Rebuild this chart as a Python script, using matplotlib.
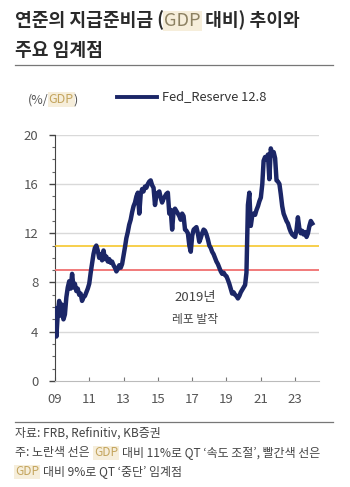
import matplotlib
matplotlib.use("Agg")
import matplotlib.pyplot as plt
import numpy as np
import pandas as pd
from matplotlib.lines import Line2D

plt.rcParams["font.family"] = ["Noto Sans CJK KR", "DejaVu Sans"]

# 월별 지급준비금 (GDP 대비, %), 2009-01 ~ 2024-01
reserve_2009 = [5.9, 3.6, 5.4, 6.5, 5.3, 6.2, 5.0, 5.4, 6.8, 7.6, 8.1, 7.5]
reserve_2010 = [8.7, 7.6, 7.9, 7.3, 7.5, 7.0, 7.1, 6.5, 6.8, 6.9, 7.2, 7.5]
reserve_2011 = [7.9, 8.8, 9.5, 10.3, 10.8, 11.0, 10.6, 10.0, 10.3, 9.8, 10.6, 9.9]
reserve_2012 = [10.1, 9.7, 9.9, 9.6, 9.7, 9.4, 9.2, 8.9, 9.1, 9.4, 9.2, 9.5]
reserve_2013 = [10.2, 10.9, 11.6, 12.1, 12.7, 13.1, 13.7, 14.2, 14.5, 15.0, 15.3, 13.6]
reserve_2014 = [15.2, 15.6, 15.4, 15.8, 15.7, 16.0, 16.2, 16.3, 15.9, 15.7, 14.3, 15.1]
reserve_2015 = [15.3, 15.4, 14.9, 14.5, 14.8, 15.0, 15.2, 15.3, 13.6, 13.9, 12.3, 13.8]
reserve_2016 = [14.0, 13.8, 13.6, 13.4, 13.1, 13.6, 13.4, 12.3, 12.2, 12.0, 11.0, 10.5]
reserve_2017 = [11.8, 12.3, 12.4, 12.5, 12.0, 11.3, 11.6, 12.0, 12.3, 12.2, 11.9, 11.5]
reserve_2018 = [11.0, 10.8, 10.5, 10.3, 10.0, 9.7, 9.5, 9.2, 8.9, 8.7, 8.8, 8.6]
reserve_2019 = [8.5, 8.2, 7.9, 7.5, 7.1, 7.2, 7.0, 6.9, 6.7, 6.9, 7.2, 7.4]
reserve_2020 = [7.6, 7.8, 8.8, 14.3, 15.3, 12.6, 13.4, 13.6, 13.5, 13.9, 14.2, 14.6]
reserve_2021 = [14.9, 16.0, 17.9, 18.2, 18.0, 18.4, 16.4, 18.9, 18.5, 18.6, 18.1, 16.3]
reserve_2022 = [16.2, 16.0, 15.2, 14.2, 13.6, 13.3, 13.0, 12.8, 12.4, 12.1, 11.9, 11.8]
reserve_2023 = [11.7, 12.3, 13.3, 12.4, 12.0, 12.2, 11.9, 12.1, 11.7, 12.0, 12.6, 13.0]
reserve_2024 = [12.8]

reserve = (reserve_2009 + reserve_2010 + reserve_2011 + reserve_2012 + reserve_2013
           + reserve_2014 + reserve_2015 + reserve_2016 + reserve_2017 + reserve_2018
           + reserve_2019 + reserve_2020 + reserve_2021 + reserve_2022 + reserve_2023
           + reserve_2024)
dates = pd.date_range("2009-01-01", periods=len(reserve), freq="MS")

slow_level = 11   # QT 속도 조절
stop_level = 9    # QT 중단
tick_years = [2009, 2011, 2013, 2015, 2017, 2019, 2021, 2023]
tick_labels = ["09", "11", "13", "15", "17", "19", "21", "23"]
y_ticks = [0, 4, 8, 12, 16, 20]

NAVY = "#1b2667"
GREY_TXT = "#555555"
NOTE_TXT = "#444444"
HL_BG = "#f6eedb"

fig = plt.figure(figsize=(3.5, 4.87), dpi=100)
ax = fig.add_axes([0.157, 0.218, 0.754, 0.505])

ax.plot(dates, reserve, color=NAVY, lw=3.2, solid_joinstyle="round", zorder=4)
ax.axhline(slow_level, color="#f5c21b", lw=1.1, zorder=3)
ax.axhline(stop_level, color="#f07070", lw=1.3, zorder=3)
for v in y_ticks[1:]:
    ax.axhline(v, color="#d9d9d9", lw=1.0, zorder=1)

ax.set_ylim(0, 20)
ax.set_xlim(pd.Timestamp("2009-01-01"), pd.Timestamp("2024-05-20"))
ax.set_yticks(y_ticks)
ax.set_yticks(np.arange(0, 21, 1), minor=True)
ax.set_xticks([pd.Timestamp(f"{y}-01-01") for y in tick_years])
ax.set_xticklabels(tick_labels)
ax.tick_params(axis="y", which="major", direction="out", length=4, width=1,
               color="#444444", labelsize=9.5, labelcolor=GREY_TXT, pad=8)
ax.tick_params(axis="y", which="minor", direction="out", length=2.5, width=0.8,
               color="#666666")
ax.tick_params(axis="x", which="major", direction="in", length=3, width=0.8,
               color="#777777", labelsize=9.5, labelcolor=GREY_TXT, pad=9)
for s in ["top", "right"]:
    ax.spines[s].set_visible(False)
ax.spines["left"].set_color("#444444")
ax.spines["bottom"].set_color("#bbbbbb")

ax.text(pd.Timestamp("2017-03-01"), 6.75, "2019년", ha="center", va="center",
        fontsize=9.5, color="#444444")
ax.text(pd.Timestamp("2017-03-01"), 5.0, "레포 발작", ha="center", va="center",
        fontsize=8.5, color="#444444")


def put_parts(x, y, parts, size, weight="normal"):
    # parts: (text, color, highlight, gap in points before)
    t = None
    for s, color, hl, gap in parts:
        kw = dict(fontsize=size, color=color,
                  fontweight="normal" if hl else weight)
        if hl:
            kw["bbox"] = dict(facecolor=HL_BG, edgecolor="none", pad=0.6)
        if t is None:
            t = fig.text(x, y, s, ha="left", va="center", **kw)
        else:
            t = ax.annotate(s, xy=(1, 0), xycoords=t, xytext=(gap, 0),
                            textcoords="offset points", ha="left", va="bottom",
                            annotation_clip=False, **kw)
    return t


put_parts(0.043, 0.959, [("연준의 지급준비금 (", "#2a2a2a", False, 0),
                         ("GDP", "#8c8162", True, 0),
                         (" 대비) 추이와", "#2a2a2a", False, 0)], 13.1, "bold")
fig.text(0.043, 0.897, "주요 임계점", ha="left", va="center", fontsize=13.1,
         fontweight="bold", color="#2a2a2a")
fig.add_artist(Line2D([0.043, 0.951], [0.8665, 0.8665], color="#777777", lw=0.9))

put_parts(0.08, 0.795, [("(%/", GREY_TXT, False, 0),
                        ("GDP", "#c4a55e", True, 0),
                        (")", GREY_TXT, False, 0)], 9)
fig.add_artist(Line2D([0.334, 0.449], [0.801, 0.801], color=NAVY, lw=2.8))
fig.text(0.463, 0.801, "Fed_Reserve 12.8", ha="left", va="center", fontsize=9.3,
         color="#333333")

fig.add_artist(Line2D([0.043, 0.951], [0.134, 0.134], color="#777777", lw=0.9))
fig.text(0.043, 0.111, "자료: FRB, Refinitiv, KB증권", ha="left", va="center",
         fontsize=8.6, color=NOTE_TXT)
put_parts(0.043, 0.070, [("주: 노란색 선은", NOTE_TXT, False, 0),
                         ("GDP", "#c4a55e", True, 3),
                         ("대비 11%로 QT ‘속도 조절’, 빨간색 선은", NOTE_TXT, False, 3)], 8.6)
put_parts(0.043, 0.031, [("GDP", "#c4a55e", True, 0),
                         ("대비 9%로 QT ‘중단’ 임계점", NOTE_TXT, False, 3)], 8.6)

fig.savefig("out.png", dpi=100, facecolor="white")
